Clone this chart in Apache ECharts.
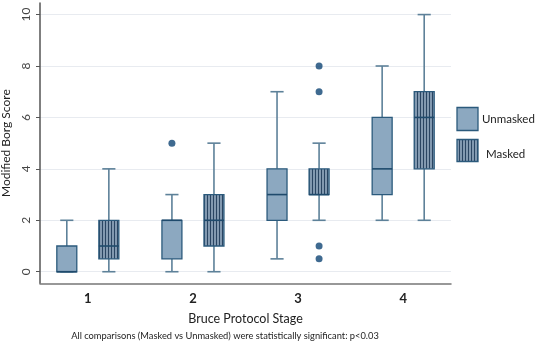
<!DOCTYPE html>
<html>
<head>
<meta charset="utf-8">
<script src="https://cdn.jsdelivr.net/npm/echarts@6/dist/echarts.min.js"></script>
<style>
  html, body { margin: 0; padding: 0; background: #fff; }
  #main { width: 540px; height: 342px; }
</style>
</head>
<body>
<div id="main"></div>
<script>
"use strict";

// stages on the x axis
const stages = [1, 2, 3, 4];
const yTicks = [0, 2, 4, 6, 8, 10];

// box stats: [min, q1, median, q3, max]
const unmaskedBoxes = [
  [0, 0, 0, 1, 2],
  [0, 0.5, 2, 2, 3],
  [0.5, 2, 3, 4, 7],
  [2, 3, 4, 6, 8],
];
const maskedBoxes = [
  [0, 0.5, 1, 2, 4],
  [0, 1, 2, 3, 5],
  [2, 3, 3, 4, 5],
  [2, 4, 6, 7, 10],
];

// outliers: [stage, value]
const unmaskedOutliers = [[2, 5]];
const maskedOutliers = [[3, 8], [3, 7], [3, 1], [3, 0.5]];

const OFFSET = 0.2;
const FONT = 'Lato';

let boxFill = '#8ca8c0';
let boxBorder = '#2b5a7c';
let whiskerColor = '#5d8199';
let dotColor = '#0f4574';

// hatch pattern for masked boxes
function makeHatch() {
  let c = document.createElement('canvas');
  c.width = 3;
  c.height = 4;
  let ctx = c.getContext('2d');
  ctx.fillStyle = '#8299b0';
  ctx.fillRect(0, 0, 3, 4);
  ctx.fillStyle = '#2a4562';
  ctx.fillRect(0, 0, 1, 4);
  return c;
}
let hatch = { image: makeHatch(), repeat: 'repeat' };

function toData(boxes, off) {
  return boxes.map((b, i) => [stages[i] + off].concat(b));
}

function makeRender(fill) {
  return function (params, api) {
    let x = api.value(0);
    let pMin = api.coord([x, api.value(1)]);
    let pQ1 = api.coord([x, api.value(2)]);
    let pMed = api.coord([x, api.value(3)]);
    let pQ3 = api.coord([x, api.value(4)]);
    let pMax = api.coord([x, api.value(5)]);
    let w = api.size([0.19, 0])[0];
    let cap = api.size([0.125, 0])[0];
    let cx = pMin[0];
    let ws = { stroke: whiskerColor, lineWidth: 1.6 };
    return {
      type: 'group',
      children: [
        { type: 'line', shape: { x1: cx, y1: pMax[1], x2: cx, y2: pQ3[1] }, style: ws },
        { type: 'line', shape: { x1: cx, y1: pMin[1], x2: cx, y2: pQ1[1] }, style: ws },
        { type: 'line', shape: { x1: cx - cap / 2, y1: pMax[1], x2: cx + cap / 2, y2: pMax[1] }, style: ws },
        { type: 'line', shape: { x1: cx - cap / 2, y1: pMin[1], x2: cx + cap / 2, y2: pMin[1] }, style: ws },
        {
          type: 'rect',
          shape: { x: cx - w / 2, y: pQ3[1], width: w, height: pQ1[1] - pQ3[1] },
          style: { fill: fill, stroke: boxBorder, lineWidth: 1.3 },
        },
        {
          type: 'line',
          shape: { x1: cx - w / 2, y1: pMed[1], x2: cx + w / 2, y2: pMed[1] },
          style: { stroke: '#1f4a6c', lineWidth: 1.6 },
        },
      ],
    };
  };
}

let myChart = echarts.init(document.getElementById('main'));

let option = {
  animation: false,
  backgroundColor: '#fff',
  textStyle: { fontFamily: FONT },
  grid: { left: 40, right: 89, top: 3, bottom: 58.7, containLabel: false, outerBoundsMode: 'none' },
  xAxis: {
    type: 'value',
    min: 0.545,
    max: 4.455,
    name: 'Bruce Protocol Stage',
    nameLocation: 'middle',
    nameGap: 29,
    nameTextStyle: { fontFamily: FONT, fontSize: 12.5, color: '#222' },
    axisLine: { show: true, onZero: false, lineStyle: { color: '#777', width: 1.5 } },
    axisTick: { show: false },
    splitLine: { show: false },
    axisLabel: {
      customValues: stages,
      margin: 9,
      fontFamily: FONT,
      fontSize: 13,
      fontWeight: 'bold',
      color: '#222',
    },
  },
  yAxis: {
    type: 'value',
    min: -0.45,
    max: 10.45,
    name: 'Modified Borg Score',
    nameLocation: 'middle',
    nameGap: 26,
    nameTextStyle: { fontFamily: FONT, fontSize: 12, color: '#222' },
    axisLine: { show: true, lineStyle: { color: '#555', width: 1.5 } },
    axisTick: { show: true, length: 4, customValues: yTicks, lineStyle: { color: '#555' } },
    splitLine: { show: true, lineStyle: { color: '#e8ebf0', width: 1 } },
    axisLabel: {
      customValues: yTicks,
      rotate: 90,
      margin: 8,
      fontFamily: FONT,
      fontSize: 12,
      color: '#444',
    },
  },
  series: [
    {
      name: 'Unmasked',
      type: 'custom',
      renderItem: makeRender(boxFill),
      data: toData(unmaskedBoxes, -OFFSET),
      encode: { x: 0, y: [1, 5] },
    },
    {
      name: 'Masked',
      type: 'custom',
      renderItem: makeRender(hatch),
      data: toData(maskedBoxes, OFFSET),
      encode: { x: 0, y: [1, 5] },
    },
    {
      type: 'scatter',
      symbolSize: 7,
      itemStyle: { color: dotColor },
      data: unmaskedOutliers.map(d => [d[0] - OFFSET, d[1]]),
    },
    {
      type: 'scatter',
      symbolSize: 7,
      itemStyle: { color: dotColor },
      data: maskedOutliers.map(d => [d[0] + OFFSET, d[1]]),
    },
  ],
  graphic: [
    {
      type: 'rect',
      shape: { x: 457, y: 107.5, width: 21, height: 23 },
      style: { fill: boxFill, stroke: boxBorder, lineWidth: 1.3 },
    },
    {
      type: 'text',
      x: 482, y: 119,
      style: { text: 'Unmasked', fontFamily: FONT, fontSize: 11.5, fill: '#222', verticalAlign: 'middle' },
    },
    {
      type: 'rect',
      shape: { x: 457, y: 139.5, width: 21, height: 22 },
      style: { fill: hatch, stroke: boxBorder, lineWidth: 1.3 },
    },
    {
      type: 'text',
      x: 486, y: 154,
      style: { text: 'Masked', fontFamily: FONT, fontSize: 11.5, fill: '#222', verticalAlign: 'middle' },
    },
    {
      type: 'text',
      x: 225, y: 336,
      style: {
        text: 'All comparisons (Masked vs Unmasked) were statistically significant: p<0.03',
        fontFamily: FONT, fontSize: 9.3, fill: '#222', align: 'center', verticalAlign: 'middle',
      },
    },
  ],
};

myChart.setOption(option);
</script>
</body>
</html>
